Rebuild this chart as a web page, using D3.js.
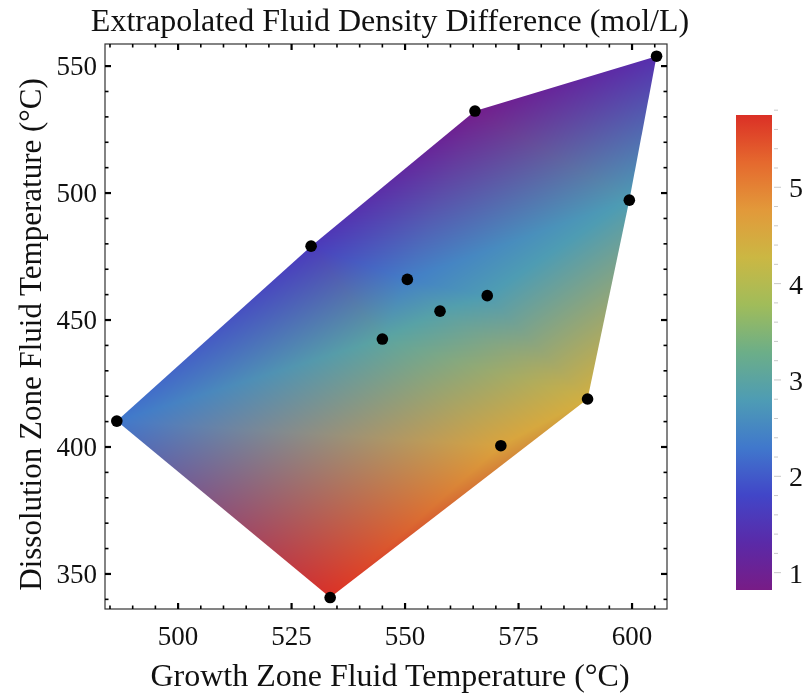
<!DOCTYPE html>
<html><head><meta charset="utf-8">
<script src="https://cdn.jsdelivr.net/npm/d3@7"></script>
<style>
body{margin:0;background:#fff;}
#wrap{position:relative;width:809px;height:695px;overflow:hidden;}
canvas,svg{position:absolute;left:0;top:0;}
text{font-family:"Liberation Serif","Times New Roman",serif;fill:#111;}
</style></head><body>
<div id="wrap"><canvas id="cv" width="809" height="695"></canvas><svg id="sv" width="809" height="695"></svg></div>
<script>
// ---- data ----
const growthT      = [486.5, 529.3, 565.4, 605.4, 599.4, 590.2, 571.1, 533.5, 550.5, 557.7, 568.1, 545.0];
const dissolutionT = [410.2, 479.1, 532.3, 553.9, 497.2, 418.9, 400.5, 340.7, 466.0, 453.5, 459.6, 442.5];
const densityDiff  = [2.3,   1.6,   0.9,   1.4,   2.8,   4.4,   4.6,   5.75,  2.4,   2.9,   2.8,   3.0];
const xTicks = [500, 525, 550, 575, 600];
const yTicks = [350, 400, 450, 500, 550];
const cbTicks = [1, 2, 3, 4, 5];
const rainbowStops = ["#781c86","#5a2aa8","#4146c8","#4078cc","#4e9cb4","#6cae88","#a0bc5a","#cbb743","#e2993a","#e5692e","#db3026"];

// ---- scales ----
const W = 809, H = 695;
const x = d3.scaleLinear().domain([483.9, 607.7]).range([105, 667]);
const y = d3.scaleLinear().domain([336.2, 558.7]).range([609, 44]);
const vMin = 0.82, vMax = 5.75;
const color = d3.scaleLinear()
  .domain(rainbowStops.map((c, i) => vMin + (vMax - vMin) * i / (rainbowStops.length - 1)))
  .range(rainbowStops).interpolate(d3.interpolateRgb).clamp(true);

// ---- density field: triangulated, vertex colours interpolated ----
const pts = growthT.map((g, i) => [g, dissolutionT[i]]);
const del = d3.Delaunay.from(pts);
const P = pts.map(p => [x(p[0]), y(p[1])]);
const C = densityDiff.map(v => d3.rgb(color(v)));
const tris = [];
for (let i = 0; i < del.triangles.length; i += 3) tris.push([del.triangles[i], del.triangles[i+1], del.triangles[i+2]]);
const triData = tris.map(t => {
  const [a, b, c] = t.map(k => P[k]);
  const det = (b[1]-c[1])*(a[0]-c[0]) + (c[0]-b[0])*(a[1]-c[1]);
  return {t, a, b, c, det};
});
const cv = document.getElementById("cv");
const ctx = cv.getContext("2d");
const off = document.createElement("canvas"); off.width = W; off.height = H;
const octx = off.getContext("2d");
const img = octx.createImageData(W, H);
const xs = P.map(p => p[0]), ys = P.map(p => p[1]);
const x0 = Math.max(0, Math.floor(d3.min(xs)) - 3), x1 = Math.min(W-1, Math.ceil(d3.max(xs)) + 3);
const y0 = Math.max(0, Math.floor(d3.min(ys)) - 3), y1 = Math.min(H-1, Math.ceil(d3.max(ys)) + 3);
for (let py = y0; py <= y1; py++) {
  for (let px = x0; px <= x1; px++) {
    const sx = px + 0.5, sy = py + 0.5;
    let best = null, bestMin = -Infinity, bw = null;
    for (const td of triData) {
      const {a, b, c, det} = td;
      const l1 = ((b[1]-c[1])*(sx-c[0]) + (c[0]-b[0])*(sy-c[1])) / det;
      const l2 = ((c[1]-a[1])*(sx-c[0]) + (a[0]-c[0])*(sy-c[1])) / det;
      const l3 = 1 - l1 - l2;
      const m = Math.min(l1, l2, l3);
      if (m > bestMin) { bestMin = m; best = td; bw = [l1, l2, l3]; }
    }
    let w = bw.map(v => Math.max(0, v)); const s = w[0]+w[1]+w[2]; w = w.map(v => v/s);
    const [ca, cb, cc] = best.t.map(k => C[k]);
    const o = (py*W + px)*4;
    img.data[o]   = w[0]*ca.r + w[1]*cb.r + w[2]*cc.r;
    img.data[o+1] = w[0]*ca.g + w[1]*cb.g + w[2]*cc.g;
    img.data[o+2] = w[0]*ca.b + w[1]*cb.b + w[2]*cc.b;
    img.data[o+3] = 255;
  }
}
octx.putImageData(img, 0, 0);
ctx.fillStyle = ctx.createPattern(off, "no-repeat");
ctx.beginPath();
del.hull.forEach((k, i) => i ? ctx.lineTo(P[k][0], P[k][1]) : ctx.moveTo(P[k][0], P[k][1]));
ctx.closePath(); ctx.fill();

// ---- svg overlay ----
const svg = d3.select("#sv");
const fL = 105, fR = 667, fT = 44, fB = 609;

// points
svg.append("g").selectAll("circle").data(pts).join("circle")
  .attr("cx", d => x(d[0])).attr("cy", d => y(d[1])).attr("r", 5.8).attr("fill", "#000");

// frame
svg.append("rect").attr("x", fL).attr("y", fT).attr("width", fR-fL).attr("height", fB-fT)
  .attr("fill", "none").attr("stroke", "#333").attr("stroke-width", 1.2);

const tk = svg.append("g").attr("stroke", "#000");
const xMinor = d3.range(485, 608, 5);
const yMinor = d3.range(340, 559, 10);
xMinor.forEach(v => {
  const major = xTicks.includes(v), L = major ? 6 : 3.5, sw = major ? 2.2 : 1.6;
  tk.append("line").attr("x1", x(v)).attr("x2", x(v)).attr("y1", fB).attr("y2", fB-L).attr("stroke-width", sw);
  tk.append("line").attr("x1", x(v)).attr("x2", x(v)).attr("y1", fT).attr("y2", fT+L).attr("stroke-width", sw);
});
yMinor.forEach(v => {
  const major = yTicks.includes(v), L = major ? 6 : 3.5, sw = major ? 2.2 : 1.6;
  tk.append("line").attr("y1", y(v)).attr("y2", y(v)).attr("x1", fL).attr("x2", fL+L).attr("stroke-width", sw);
  tk.append("line").attr("y1", y(v)).attr("y2", y(v)).attr("x1", fR).attr("x2", fR-L).attr("stroke-width", sw);
});

svg.append("g").selectAll("text").data(xTicks).join("text")
  .attr("x", d => x(d)).attr("y", 645).attr("text-anchor", "middle").attr("font-size", 27).text(d => d);
svg.append("g").selectAll("text").data(yTicks).join("text")
  .attr("x", 97).attr("y", d => y(d) + 9).attr("text-anchor", "end").attr("font-size", 27).text(d => d);

svg.append("text").attr("x", (fL+fR)/2 + 4).attr("y", 31).attr("text-anchor", "middle").attr("font-size", 32)
  .text("Extrapolated Fluid Density Difference (mol/L)");
svg.append("text").attr("x", (fL+fR)/2 + 4).attr("y", 686).attr("text-anchor", "middle").attr("font-size", 32)
  .text("Growth Zone Fluid Temperature (°C)");
svg.append("text").attr("transform", `translate(41,${(fT+fB)/2 + 8}) rotate(-90)`).attr("text-anchor", "middle").attr("font-size", 31)
  .text("Dissolution Zone Fluid Temperature (°C)");

// ---- colour bar ----
const cbX = 736, cbW = 36, cbTop = 115, cbBot = 590;
const cbY = d3.scaleLinear().domain([vMin, vMax]).range([cbBot, cbTop]);
const grad = svg.append("defs").append("linearGradient").attr("id", "cbg")
  .attr("x1", 0).attr("y1", 1).attr("x2", 0).attr("y2", 0);
d3.range(0, 1.0001, 0.05).forEach(t => grad.append("stop").attr("offset", t).attr("stop-color", color(vMin + t*(vMax-vMin))));
svg.append("rect").attr("x", cbX).attr("y", cbTop).attr("width", cbW).attr("height", cbBot-cbTop).attr("fill", "url(#cbg)");
const cbMinor = d3.range(1, 5.81, 0.2);
svg.append("g").selectAll("line").data(cbMinor).join("line")
  .attr("x1", cbX+cbW+2).attr("x2", d => cbX+cbW+2 + (Math.abs(d-Math.round(d))<1e-6 ? 7 : 4))
  .attr("y1", d => cbY(d)).attr("y2", d => cbY(d)).attr("stroke", "#c8c8c8").attr("stroke-width", 1);
svg.append("g").selectAll("text").data(cbTicks).join("text")
  .attr("x", 789).attr("y", d => cbY(d) + 10).attr("font-size", 28).text(d => d);
</script></body></html>
